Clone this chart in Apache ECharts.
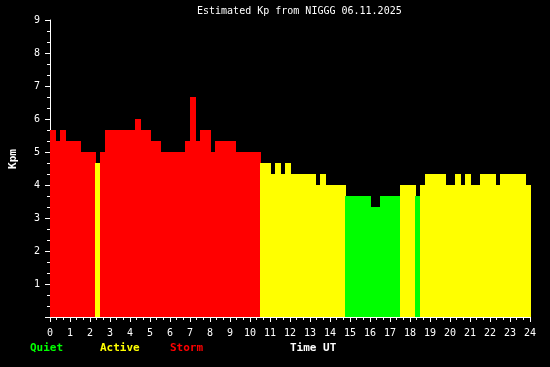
<!DOCTYPE html>
<html>
<head>
<meta charset="utf-8">
<script src="https://cdn.jsdelivr.net/npm/echarts@6/dist/echarts.min.js"></script>
<style>
html,body{margin:0;padding:0;background:#000;}
#c{width:550px;height:367px;}
</style>
</head>
<body>
<div id="c"></div>
<script>
// Estimated Kp, one value per 15-minute slot (96 slots, 00:00 -> 24:00 UT)
const slotHours = 0.25;
const kpValues = [
  5.67, 5.33, 5.67, 5.33, 5.33, 5.33, 5.0, 5.0, 5.0, 4.67, 5.0, 5.67,
  5.67, 5.67, 5.67, 5.67, 5.67, 6.0, 5.67, 5.67, 5.33, 5.33, 5.0, 5.0,
  5.0, 5.0, 5.0, 5.33, 6.67, 5.33, 5.67, 5.67, 5.0, 5.33, 5.33, 5.33,
  5.33, 5.0, 5.0, 5.0, 5.0, 5.0, 4.67, 4.67, 4.33, 4.67, 4.33, 4.67,
  4.33, 4.33, 4.33, 4.33, 4.33, 4.0, 4.33, 4.0, 4.0, 4.0, 4.0, 3.67,
  3.67, 3.67, 3.67, 3.67, 3.33, 3.33, 3.67, 3.67, 3.67, 3.67, 4.0, 4.0,
  4.0, 3.67, 4.0, 4.33, 4.33, 4.33, 4.33, 4.0, 4.0, 4.33, 4.0, 4.33,
  4.0, 4.0, 4.33, 4.33, 4.33, 4.0, 4.33, 4.33, 4.33, 4.33, 4.33, 4.0
];
const xTicks = [0,1,2,3,4,5,6,7,8,9,10,11,12,13,14,15,16,17,18,19,20,21,22,23,24];
const yTicks = [1,2,3,4,5,6,7,8,9];
const legendLabels = ['Quiet', 'Active', 'Storm'];
const titleText = 'Estimated Kp from NIGGG 06.11.2025';
const xAxisName = 'Time UT';
const yAxisName = 'Kpm';

const RED = '#ff0000', YEL = '#ffff00', GRN = '#00ff00';
function kpColor(v){ return v >= 5 ? RED : (v >= 4 ? YEL : GRN); }

const data = kpValues.map((v, i) => [i * slotHours, v]);
const mono = 'DejaVu Sans Mono';

const chart = echarts.init(document.getElementById('c'), null, {renderer: 'canvas'});
chart.setOption({
  backgroundColor: '#000',
  animation: false,
  grid: {left: 50, right: 20, top: 20, bottom: 50, containLabel: false},
  xAxis: {
    type: 'value', min: 0, max: 24, interval: 1,
    axisLine: {show: true, lineStyle: {color: '#fff', width: 1}},
    axisTick: {show: true, length: 5, inside: false, lineStyle: {color: '#fff'}},
    minorTick: {show: true, splitNumber: 3, length: 3, lineStyle: {color: '#fff'}},
    splitLine: {show: false},
    axisLabel: {color: '#fff', fontFamily: mono, fontSize: 10, margin: 11,
      formatter: v => xTicks.indexOf(v) >= 0 ? String(v) : ''}
  },
  yAxis: {
    type: 'value', min: 0, max: 9, interval: 1,
    axisLine: {show: true, lineStyle: {color: '#fff', width: 1}},
    axisTick: {show: true, length: 5, inside: false, lineStyle: {color: '#fff'}},
    minorTick: {show: true, splitNumber: 3, length: 3, lineStyle: {color: '#fff'}},
    splitLine: {show: false},
    axisLabel: {color: '#fff', fontFamily: mono, fontSize: 10, margin: 10,
      formatter: v => yTicks.indexOf(v) >= 0 ? String(v) : ''}
  },
  series: [{
    type: 'custom',
    data: data,
    encode: {x: 0, y: 1},
    clip: false,
    renderItem: function(params, api){
      const x0 = api.value(0), v = api.value(1);
      const p0 = api.coord([x0, v]);
      const p1 = api.coord([x0 + slotHours, 0]);
      return {
        type: 'rect',
        shape: {x: Math.round(p0[0]), y: Math.round(p0[1]), width: Math.round(p1[0]) - Math.round(p0[0]) + 1, height: Math.round(p1[1]) - Math.round(p0[1])},
        style: {fill: kpColor(v), stroke: null}
      };
    }
  }],
  graphic: [
    {type: 'text', left: 197, top: 6, style: {text: titleText, fill: '#fff', font: '10px "DejaVu Sans Mono"'}},
    {type: 'text', x: 13, y: 159, rotation: Math.PI/2, style: {text: yAxisName, fill: '#fff', font: 'bold 11px "DejaVu Sans Mono"', align: 'center', verticalAlign: 'middle'}},
    {type: 'text', left: 30, top: 343, style: {text: legendLabels[0], fill: GRN, font: 'bold 11px "DejaVu Sans Mono"'}},
    {type: 'text', left: 100, top: 343, style: {text: legendLabels[1], fill: YEL, font: 'bold 11px "DejaVu Sans Mono"'}},
    {type: 'text', left: 170, top: 343, style: {text: legendLabels[2], fill: RED, font: 'bold 11px "DejaVu Sans Mono"'}},
    {type: 'text', left: 290, top: 343, style: {text: xAxisName, fill: '#fff', font: 'bold 11px "DejaVu Sans Mono"'}}
  ]
});
</script>
</body>
</html>
